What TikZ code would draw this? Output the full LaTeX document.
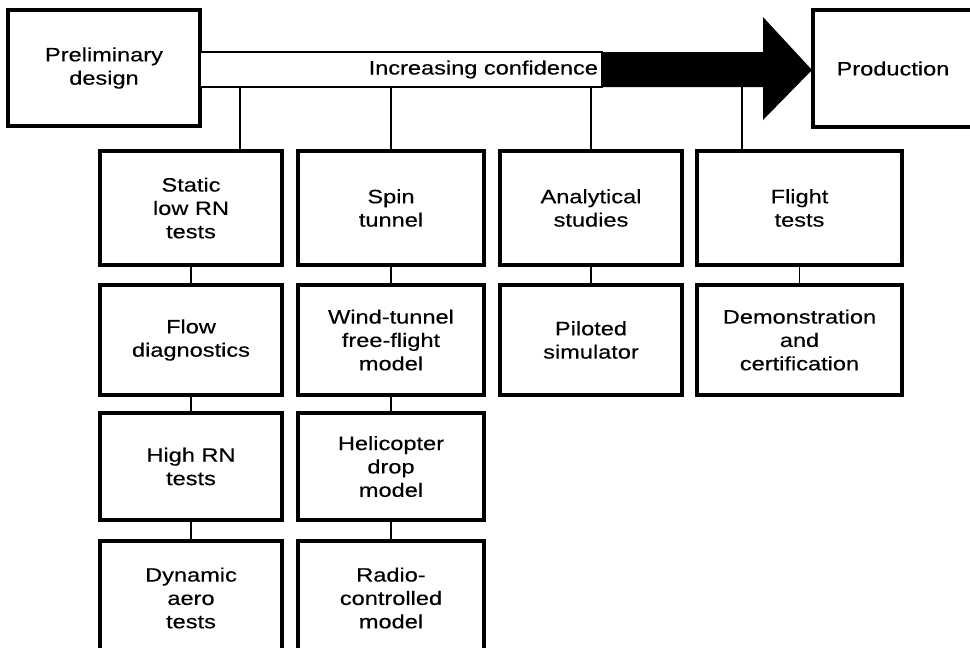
\documentclass[tikz,border=0pt]{standalone}
\usepackage{fontspec}
\setmainfont{Liberation Sans}[FakeStretch=1.22,FakeBold=0.3]
\begin{document}
\begin{tikzpicture}[x=0.02cm,y=-0.02cm,
  box/.style={draw, line width=2pt, align=center, inner sep=0pt,
    font=\fontsize{11}{13.3}\selectfont},
  wA/.style={minimum width=3.64cm},
  wB/.style={minimum width=3.72cm},
  wD/.style={minimum width=4.1cm},
  link/.style={line width=0.7pt},
  shaft/.style={line width=1.5pt}]
\useasboundingbox (0,0) rectangle (970,647);
\clip (0,0) rectangle (970,647);
% top boxes
\node[box, minimum width=3.84cm, minimum height=2.32cm] (prel) at (104,68) {Preliminary\\design};
\node[box, minimum width=3.2cm, minimum height=2.34cm] (prod) at (893,68.5) {Production};
% arrow
\draw[shaft, fill=white] (200,52) rectangle (602,87);
\fill (602,52) -- (763,52) -- (763,17) -- (812,70) -- (763,120) -- (763,87) -- (602,87) -- cycle;
\draw[shaft] (200,52) -- (602,52) (200,87) -- (602,87);
\node[anchor=east, fill=white, inner sep=1.5pt, font=\fontsize{11}{13}\selectfont] (conf) at (601,69.5) {Increasing confidence};
% column 1
\node[box, wA, minimum height=2.28cm] (c1a) at (191,208) {Static\\low RN\\tests};
\node[box, wA, minimum height=2.2cm] (c1b) at (191,340) {Flow\\diagnostics};
\node[box, wA, minimum height=2.14cm] (c1c) at (191,466.5) {High RN\\tests};
\node[box, wA, minimum height=2.28cm] (c1d) at (191,598) {Dynamic\\aero\\tests};
% column 2
\node[box, wB, minimum height=2.28cm] (c2a) at (391,208) {Spin\\tunnel};
\node[box, wB, minimum height=2.2cm] (c2b) at (391,340) {Wind-tunnel\\free-flight\\model};
\node[box, wB, minimum height=2.14cm] (c2c) at (391,466.5) {Helicopter\\drop\\model};
\node[box, wB, minimum height=2.28cm] (c2d) at (391,598) {Radio-\\controlled\\model};
% column 3
\node[box, wA, minimum height=2.28cm] (c3a) at (591,208) {Analytical\\studies};
\node[box, wA, minimum height=2.2cm] (c3b) at (591,340) {Piloted\\simulator};
% column 4
\node[box, wD, minimum height=2.28cm] (c4a) at (799.5,208) {Flight\\tests};
\node[box, wD, minimum height=2.2cm] (c4b) at (799.5,340) {Demonstration\\and\\certification};
% connectors from shaft
\coordinate (s1) at (240,87);
\coordinate (s2) at (391,87);
\coordinate (s3) at (591,87);
\coordinate (s4) at (742,87);
\draw[link] (s1) -- (s1 |- c1a.north);
\draw[link] (s2) -- (s2 |- c2a.north);
\draw[link] (s3) -- (s3 |- c3a.north);
\draw[link] (s4) -- (s4 |- c4a.north);
% vertical connectors
\draw[link] (c1a) -- (c1b) (c1b) -- (c1c) (c1c) -- (c1d);
\draw[link] (c2a) -- (c2b) (c2b) -- (c2c) (c2c) -- (c2d);
\draw[link] (c3a) -- (c3b);
\draw[link] (c4a) -- (c4b);
\end{tikzpicture}
\end{document}
